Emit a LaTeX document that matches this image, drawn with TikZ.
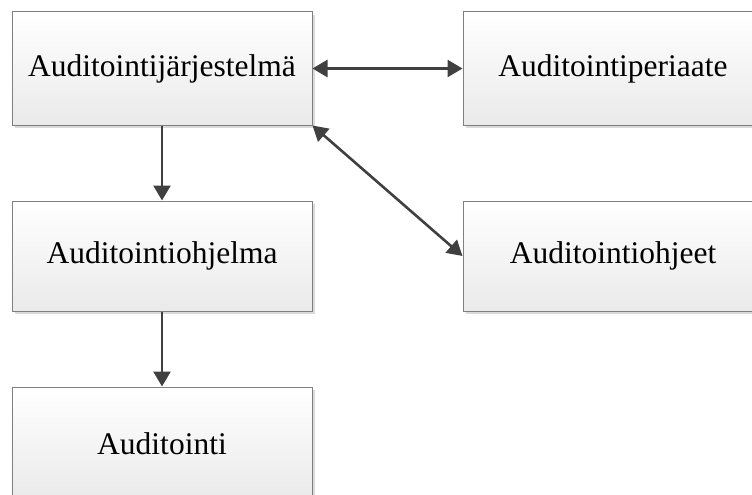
\documentclass[tikz,border=0pt]{standalone}
\usepackage{fontspec}
\setmainfont{Liberation Serif}
\usetikzlibrary{arrows.meta,shadows}
\definecolor{boxline}{HTML}{7F7F7F}
\definecolor{boxshade}{HTML}{EAEAEA}
\definecolor{shadowgray}{HTML}{DADADA}
\definecolor{arrowgray}{HTML}{404040}
\tikzset{
  box/.style={draw=boxline, line width=1pt, top color=white, bottom color=boxshade,
    minimum width=300pt, minimum height=113pt, inner sep=0pt,
    font=\fontsize{31.5}{36}\selectfont,
    drop shadow={shadow xshift=3pt, shadow yshift=-3pt, fill=shadowgray, opacity=1}},
  conn/.style={draw=arrowgray, line width=2.6pt,
    arrows={-Triangle[length=15pt,width=17pt,fill=arrowgray]}},
  biconn/.style={conn, arrows={Triangle[length=15pt,width=17pt,fill=arrowgray]-Triangle[length=15pt,width=17pt,fill=arrowgray]}}
}
\begin{document}
\begin{tikzpicture}[x=1pt,y=-1pt]
  \useasboundingbox (0,0) rectangle (752,495);
  \clip (0,0) rectangle (752,495);
  \node[box] (jar) at (162,68.5) {Auditointijärjestelmä};
  \node[box] (per) at (613,68.5) {Auditointiperiaate};
  \node[box, minimum height=110pt] (ohj) at (162,256) {Auditointiohjelma};
  \node[box, minimum height=110pt] (ohe) at (613,256) {Auditointiohjeet};
  \node[box] (aud) at (162,443.5) {Auditointi};
  \draw[biconn] (jar.east) -- (per.west);
  \draw[biconn] (jar.south east) -- (ohe.west);
  \draw[conn] (jar.south) -- (ohj.north);
  \draw[conn] (ohj.south) -- (aud.north);
\end{tikzpicture}
\end{document}
